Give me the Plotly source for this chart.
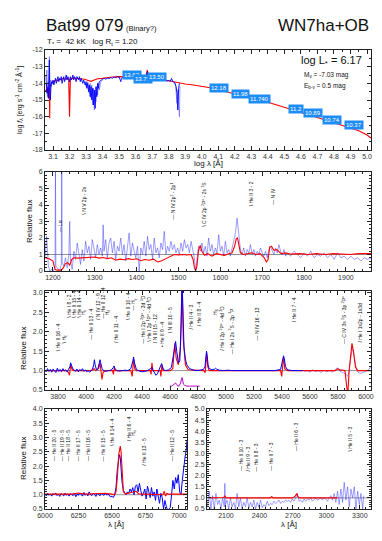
import plotly.graph_objects as go

W, H = 382, 541
FONT = "Liberation Sans Narrow, Liberation Sans, Arial, sans-serif"
INK = "#222"
RED = "rgb(255,0,0)"
BLUE = "rgb(0,0,255)"
LBLUE = "rgba(40,40,255,0.5)"

# ---------------- panel 1: SED (log lambda, log flux) ----------------
sed_model_x = [3.050, 3.058, 3.065, 3.070, 3.078, 3.080, 3.082, 3.090, 3.100, 3.110,
               3.120, 3.130, 3.140, 3.150, 3.160, 3.170, 3.180, 3.190, 3.195, 3.200,
               3.205, 3.215, 3.230, 3.250, 3.270, 3.290, 3.310, 3.330, 3.350, 3.370,
               3.400, 3.430, 3.460, 3.500, 3.540, 3.580, 3.620, 3.660, 3.671, 3.680,
               3.720, 3.750, 3.800, 3.830, 3.850, 3.900, 3.950, 4.000, 4.050, 4.100,
               4.150, 4.200, 4.250, 4.300, 4.350, 4.400, 4.450, 4.500, 4.550, 4.600,
               4.650, 4.700, 4.750, 4.800, 4.850, 4.900, 4.950, 5.000, 5.024]
sed_model_y = [-14.4, -14.5, -14.2, -14.4, -14.3, -16.1, -14.2, -14.0, -13.95, -13.9,
               -13.8, -13.85, -13.75, -13.8, -13.7, -13.75, -13.72, -13.7, -13.8, -16.0,
               -13.75, -13.7, -13.68, -13.7, -13.72, -13.75, -13.82, -13.88, -13.8, -13.72,
               -13.7, -13.65, -13.62, -13.6, -13.62, -13.64, -13.66, -13.66, -13.2, -13.68,
               -13.74, -13.76, -13.84, -13.9, -13.95, -14.04, -14.1, -14.16, -14.26, -14.38,
               -14.5, -14.62, -14.74, -14.87, -15.0, -15.14, -15.28, -15.45, -15.6, -15.75,
               -15.9, -16.05, -16.2, -16.35, -16.5, -16.68, -16.85, -17.1, -17.28]

sed_obs_x = [3.060, 3.064, 3.068, 3.072, 3.076, 3.078, 3.080, 3.084, 3.088, 3.092,
             3.096, 3.100, 3.105, 3.110, 3.115, 3.120, 3.125, 3.130, 3.135, 3.140,
             3.145, 3.150, 3.155, 3.160, 3.165, 3.170, 3.175, 3.180, 3.185, 3.190,
             3.195, 3.200, 3.205, 3.210, 3.215, 3.220, 3.225, 3.230, 3.235, 3.240,
             3.245, 3.250, 3.255, 3.260, 3.265, 3.270, 3.275, 3.280, 3.285, 3.290,
             3.295, 3.300, 3.305, 3.310, 3.315, 3.320, 3.325, 3.330, 3.335, 3.340,
             3.345, 3.350, 3.355, 3.360, 3.365, 3.370, 3.375, 3.380, 3.390, 3.400,
             3.410, 3.420, 3.430, 3.440, 3.450, 3.460, 3.470, 3.480, 3.490, 3.500,
             3.505, 3.510, 3.515, 3.520, 3.530, 3.540, 3.550, 3.560, 3.570, 3.580,
             3.590, 3.600, 3.610, 3.620, 3.630, 3.640, 3.650, 3.660, 3.665, 3.671,
             3.676, 3.690, 3.700, 3.710, 3.720, 3.730, 3.740, 3.750, 3.760, 3.770,
             3.780, 3.790, 3.800, 3.810, 3.817, 3.825, 3.835, 3.845, 3.850, 3.855,
             3.860, 3.865]
sed_obs_y = [-14.0, -14.6, -14.3, -14.9, -13.4, -12.6, -14.2, -15.0, -14.1, -13.9,
             -14.0, -13.8, -14.1, -13.9, -13.7, -14.0, -13.8, -13.6, -13.9, -13.7,
             -13.8, -13.6, -14.0, -13.7, -13.6, -13.9, -13.7, -13.5, -13.8, -13.6,
             -13.7, -13.9, -13.6, -13.8, -13.7, -13.5, -13.8, -13.6, -13.7, -13.9,
             -13.6, -13.7, -13.8, -13.6, -13.9, -13.7, -13.8, -14.0, -13.8, -13.9,
             -14.1, -13.9, -14.3, -14.0, -14.5, -14.1, -14.8, -14.2, -15.0, -14.3,
             -15.3, -14.4, -15.5, -14.2, -14.8, -14.0, -14.3, -13.9, -13.8, -13.75,
             -13.7, -13.75, -13.68, -13.72, -13.65, -13.7, -13.62, -13.66, -13.6, -13.62,
             -13.75, -13.9, -13.7, -13.65, -13.7, -13.68, -13.72, -13.66, -13.7, -13.68,
             -13.72, -13.7, -13.74, -13.7, -13.72, -13.74, -13.7, -13.72, -13.6, -13.3,
             -13.65, -13.74, -13.76, -13.74, -13.78, -13.76, -13.8, -13.78, -13.82, -13.8,
             -13.84, -13.86, -13.84, -13.88, -13.7, -13.9, -13.95, -14.2, -14.6, -15.6,
             -14.3, -14.0]

sed_faint_x = [3.055, 3.060, 3.063, 3.066, 3.070, 3.074, 3.078, 3.082, 3.086, 3.090, 3.095, 3.100, None,
               3.290, 3.300, 3.310, 3.320, 3.325, 3.330, 3.335, 3.340, 3.345, 3.350, 3.355, 3.360,
               3.365, 3.370, 3.375, 3.380, 3.390, 3.400, None,
               3.840, 3.845, 3.850, 3.855, 3.860, 3.865, 3.868]
sed_faint_y = [-13.5, -14.2, -13.2, -14.8, -13.9, -14.9, -12.4, -14.5, -13.8, -14.2, -13.9, -14.0, None,
               -13.9, -14.2, -13.9, -14.6, -14.0, -14.9, -14.1, -15.3, -14.3, -15.6, -14.4, -15.1,
               -14.2, -14.7, -14.0, -14.4, -13.9, -13.8, None,
               -13.95, -14.5, -15.2, -14.4, -15.6, -16.0, -14.2]

phot_x = [3.575, 3.644, 3.729, 4.104, 4.234, 4.352, 4.573, 4.673, 4.785, 4.921]
phot_y = [-13.50, -13.74, -13.62, -14.28, -14.64, -14.94, -15.54, -15.78, -16.20, -16.50]
phot_mag = ["13.62", "13.71", "13.50", "12.18", "11.98", "11.740", "11.2", "10.89", "10.74", "10.37"]

# ---------------- panel 2: UV relative flux ----------------
uv_obs_x = [1181, 1185, 1189, 1193, 1197, 1201, 1205, 1206, 1207, 1212,
            1216, 1220, 1221, 1222, 1226, 1230, 1234, 1238, 1240, 1242,
            1246, 1250, 1254, 1258, 1262, 1266, 1270, 1274, 1278, 1282,
            1286, 1290, 1294, 1298, 1302, 1306, 1310, 1314, 1318, 1320,
            1322, 1326, 1330, 1334, 1338, 1342, 1346, 1350, 1354, 1358,
            1362, 1366, 1370, 1374, 1378, 1382, 1386, 1390, 1394, 1398,
            1402, 1406, 1410, 1414, 1418, 1422, 1426, 1430, 1434, 1438,
            1442, 1446, 1450, 1454, 1458, 1462, 1466, 1470, 1474, 1478,
            1482, 1486, 1490, 1494, 1498, 1502, 1506, 1510, 1514, 1518,
            1522, 1526, 1530, 1534, 1538, 1541, 1544, 1548, 1552, 1556,
            1560, 1564, 1568, 1572, 1576, 1580, 1584, 1588, 1592, 1596,
            1600, 1604, 1608, 1612, 1616, 1620, 1624, 1628, 1632, 1636,
            1640, 1644, 1648, 1652, 1656, 1660, 1664, 1668, 1672, 1676,
            1680, 1684, 1688, 1692, 1696, 1700, 1704, 1708, 1712, 1716,
            1720, 1724, 1728, 1732, 1736, 1740, 1744, 1748, 1752, 1756,
            1760, 1768, 1776, 1784, 1792, 1800, 1808, 1816, 1824, 1832,
            1840, 1848, 1856, 1864, 1872, 1880, 1888, 1896, 1904, 1912,
            1920, 1928, 1936, 1944, 1952, 1960]
uv_obs_y = [0.8, 2.1, 0.3, 0.0, 0.1, 0.0, 0.2, 6.5, 0.3, 0.1,
            0.0, 0.4, 6.5, 0.5, 0.3, 0.8, 0.2, 1.0, 3.0, 0.6,
            0.1, 1.2, 0.7, 1.7, 0.9, 0.4, 1.3, 0.6, 1.8, 1.1,
            1.5, 0.7, 1.9, 1.2, 0.8, 1.6, 1.0, 1.4, 0.9, 2.8,
            1.2, 1.9, 0.8, 1.7, 2.0, 1.1, 1.8, 0.7, 1.5, 1.2,
            2.0, 1.0, 1.6, 0.6, 1.3, 2.3, 0.9, 1.7, 1.2, 0.8,
            1.5, 0.0, 1.4, 1.0, 1.8, 0.9, 2.1, 1.3, 1.6, 0.7,
            2.0, 1.1, 1.4, 0.8, 1.7, 1.3, 2.4, 1.0, 1.5, 1.2,
            1.8, 1.3, 1.6, 1.1, 1.4, 1.0, 1.7, 1.2, 1.9, 1.4,
            1.6, 1.1, 1.8, 1.3, 0.8, 0.0, 0.6, 1.5, 1.2, 1.7,
            1.1, 1.5, 0.9, 2.0, 1.2, 1.6, 1.0, 1.4, 1.1, 2.2,
            1.2, 1.5, 0.9, 1.8, 1.1, 1.3, 0.9, 1.4, 1.7, 2.3,
            3.2, 2.4, 1.3, 1.0, 1.4, 0.9, 1.3, 1.1, 1.6, 1.0,
            1.3, 0.9, 1.2, 1.0, 1.4, 1.1, 0.9, 1.2, 0.8, 1.3,
            1.5, 1.2, 1.0, 1.4, 1.1, 1.6, 1.2, 1.0, 1.3, 0.9,
            1.1, 0.9, 1.2, 1.0, 0.8, 1.1, 0.9, 1.2, 0.8, 1.0,
            0.9, 1.1, 0.8, 1.0, 0.7, 1.1, 0.8, 0.9, 0.7, 0.9,
            0.7, 0.8, 0.6, 0.8, 0.7, 0.8]

uv_model_x = [1181, 1190, 1200, 1205, 1210, 1215, 1220, 1225, 1230, 1235,
              1240, 1245, 1250, 1260, 1270, 1280, 1290, 1300, 1310, 1320,
              1330, 1340, 1350, 1360, 1370, 1380, 1390, 1400, 1410, 1420,
              1430, 1440, 1450, 1460, 1470, 1480, 1490, 1500, 1510, 1520,
              1530, 1535, 1538, 1541, 1544, 1548, 1552, 1556, 1562, 1570,
              1580, 1590, 1600, 1610, 1620, 1628, 1634, 1638, 1641, 1644,
              1648, 1655, 1665, 1675, 1685, 1695, 1705, 1710, 1714, 1718,
              1722, 1728, 1735, 1745, 1755, 1770, 1790, 1810, 1830, 1850,
              1870, 1890, 1910, 1930, 1950, 1960]
uv_model_y = [0.8, 0.75, 0.6, 0.1, 0.05, 0.03, 0.05, 0.2, 0.45, 0.5,
              0.35, 0.7, 0.8, 0.78, 0.8, 0.82, 0.8, 0.85, 0.78, 0.82,
              0.75, 0.8, 0.65, 0.72, 0.68, 0.75, 0.7, 0.74, 0.62, 0.7,
              0.65, 0.72, 0.55, 0.62, 0.75, 0.9, 1.0, 0.98, 1.0, 0.97,
              1.0, 0.7, 0.2, 0.02, 0.3, 1.3, 1.55, 1.2, 0.95, 1.05,
              0.9, 1.05, 1.0, 0.95, 1.05, 1.1, 1.5, 1.95, 2.0, 1.5,
              1.1, 1.0, 1.05, 1.1, 1.0, 1.05, 0.8, 0.55, 0.7, 1.45,
              1.5, 1.25, 1.3, 1.05, 1.1, 1.02, 1.05, 1.0, 1.05, 1.0,
              1.05, 1.02, 1.0, 1.05, 1.03, 1.05]

uv_lab_wl = [1216, 1272, 1486, 1562, 1672, 1725]
uv_lab_f = [2.2, 3.3, 3.0, 2.55, 3.8, 3.9]
uv_lab_text = ["Lα", "N V 2p - 2s", "N IV 2p<sup>2</sup> - 2p<sup>1</sup>",
               "C IV 2p <sup>2</sup>P° - 2s <sup>2</sup>S", "He II 3 - 2", "N IV"]
uv_lab_lead = ["—", "\\", "—", "\\", "\\", "—"]

# ---------------- panel 3: optical relative flux ----------------
opt_obs_x = [3705, 3715, 3725, 3735, 3745, 3755, 3765, 3775, 3785, 3795,
             3805, 3815, 3825, 3835, 3845, 3855, 3865, 3875, 3885, 3890,
             3895, 3905, 3915, 3925, 3935, 3945, 3955, 3965, 3975, 3985,
             3995, 4005, 4015, 4025, 4035, 4045, 4055, 4060, 4065, 4075,
             4085, 4095, 4100, 4105, 4115, 4125, 4140, 4160, 4180, 4195,
             4200, 4205, 4220, 4240, 4260, 4280, 4300, 4320, 4335, 4340,
             4345, 4360, 4380, 4400, 4420, 4440, 4460, 4470, 4480, 4490,
             4500, 4510, 4520, 4530, 4540, 4545, 4555, 4570, 4590, 4610,
             4625, 4634, 4640, 4648, 4660, 4670, 4680, 4686, 4692, 4700,
             4710, 4720, 4740, 4760, 4780, 4800, 4820, 4840, 4850, 4856,
             4861, 4866, 4872, 4880, 4900, 4920, 4926, 4932, 4950, 4980,
             5010, 5050, 5100, 5150, 5200, 5250, 5300, 5350, 5390, 5400,
             5405, 5411, 5417, 5425, 5440, 5470, 5500, 5530, 5550]
opt_obs_y = [1.02, 0.97, 1.05, 0.98, 1.03, 0.96, 1.04, 1.0, 0.95, 1.06,
             0.98, 1.03, 0.97, 1.05, 0.99, 1.02, 0.97, 1.03, 1.1, 1.2,
             1.15, 1.05, 1.02, 0.98, 1.04, 0.97, 1.03, 1.0, 1.05, 0.98,
             1.02, 0.97, 1.0, 0.96, 0.99, 1.02, 1.15, 1.28, 1.15, 1.02,
             1.05, 1.18, 1.28, 1.2, 1.05, 1.0, 0.98, 1.0, 1.01, 1.08,
             1.12, 1.06, 1.0, 0.99, 1.0, 1.01, 1.0, 1.05, 1.25, 1.35,
             1.22, 1.03, 0.99, 0.97, 0.98, 1.0, 1.05, 1.08, 1.0, 0.92,
             0.88, 0.92, 1.0, 1.08, 1.18, 1.12, 1.02, 1.0, 1.02, 1.08,
             1.4, 1.7, 1.75, 1.5, 1.2, 1.25, 2.2, 3.4, 2.6, 1.6,
             1.3, 1.15, 1.05, 1.02, 1.0, 1.0, 1.01, 1.03, 1.1, 1.35,
             1.5, 1.38, 1.15, 1.05, 1.02, 1.04, 1.06, 1.04, 1.01, 1.0,
             1.01, 1.0, 1.0, 1.0, 0.99, 1.0, 1.0, 1.0, 1.03, 1.2,
             1.3, 1.38, 1.3, 1.1, 1.02, 1.0, 1.0, 1.0, 1.0]

opt_faint_x = [5560, 5580, 5600, 5620, 5640, 5660, 5680, 5700, 5720, 5740,
               5760, 5780, 5795, 5805, 5815, 5830, 5845, 5860, 5870, 5880,
               5890, 5900, 5908, 5918, 5930, 5945, 5960, 5980, 6000, 6020,
               6030, 6040]
opt_faint_y = [0.98, 1.0, 0.96, 1.02, 0.97, 1.0, 0.95, 1.01, 0.97, 1.0,
               0.96, 1.02, 1.07, 1.05, 0.98, 0.96, 0.93, 0.9, 0.85, 1.0,
               1.3, 1.5, 1.55, 1.3, 1.05, 0.95, 0.93, 0.95, 0.98, 1.02,
               1.08, 1.05]

opt_model_x = [3705, 3800, 3860, 3875, 3882, 3890, 3898, 3910, 4000, 4030,
               4050, 4058, 4070, 4090, 4100, 4108, 4114, 4122, 4135, 4190,
               4196, 4202, 4210, 4320, 4330, 4340, 4348, 4360, 4460, 4465,
               4471, 4478, 4530, 4535, 4542, 4550, 4600, 4620, 4634, 4645,
               4660, 4675, 4686, 4695, 4710, 4730, 4840, 4852, 4861, 4870,
               4880, 5390, 5398, 5411, 5420, 5440, 5780, 5800, 5810, 5850,
               5862, 5870, 5880, 5893, 5900, 5910, 5925, 5940, 6040]
opt_model_y = [1.0, 1.0, 1.0, 0.95, 0.88, 1.15, 1.05, 1.0, 1.0, 1.0,
               1.02, 1.05, 1.0, 1.05, 1.2, 0.9, 0.77, 0.95, 1.0, 1.0,
               0.9, 1.08, 1.0, 1.0, 0.85, 1.3, 1.05, 1.0, 1.0, 0.9,
               1.2, 1.0, 1.0, 0.85, 1.15, 1.0, 1.0, 1.05, 1.7, 1.3,
               1.15, 1.6, 3.3, 1.8, 1.15, 1.02, 1.0, 0.95, 1.45, 1.1,
               1.0, 1.0, 0.85, 1.35, 1.05, 1.0, 1.0, 1.05, 1.02, 1.0,
               0.7, 0.35, 1.0, 1.6, 1.7, 1.5, 1.1, 1.0, 1.0]

opt_inset_x = [4598, 4610, 4620, 4630, 4640, 4648, 4656, 4666, 4676, 4682,
               4686, 4690, 4696, 4705, 4720, 4740, 4760, 4790, 4812]
opt_inset_y = [0.6, 0.6, 0.62, 0.66, 0.68, 0.64, 0.6, 0.61, 0.68, 0.78,
               0.82, 0.76, 0.65, 0.62, 0.6, 0.6, 0.6, 0.6, 0.6]

opt_lab_wl = [3800, 3843, 3876, 3914, 3948, 3979, 4034, 4081, 4121, 4152,
              4216, 4300, 4336, 4407, 4448, 4495, 4538, 4598, 4752, 4807,
              4921, 4966, 5038, 5224, 5486, 5843, 5955]
opt_lab_f = [1.45, 1.65, 2.3, 2.3, 2.3, 2.38, 1.75, 2.25, 2.3, 2.38,
             1.65, 2.25, 2.5, 1.65, 1.7, 1.65, 1.55, 1.9, 2.0, 2.1,
             2.38, 1.45, 1.38, 1.72, 2.18, 1.63, 1.66]
opt_lab_text = ["He II 16 - 4", "H<sub>ζ</sub>", "He I 8 - 2", "He II 15 - 4", "He II 14 - 4",
                "H<sub>ε</sub>", "He II 13 - 4", "N IV 12 - 9", "He II 12 - 4", "H<sub>δ</sub>",
                "He II 11 - 4", "He II 10 - 4", "H<sub>γ</sub>",
                "He I 2p <sup>3</sup>P° - 3d <sup>3</sup>D", "He I 2p <sup>1</sup>P° - 4d <sup>1</sup>D",
                "N III 15 - 12", "He II 9 - 4", "N III 10 - 5", "He II 4 - 3", "He II 8 - 4",
                "H<sub>β</sub>", "He I 2p <sup>3</sup>P° - 4d <sup>3</sup>D",
                "He I 2s <sup>3</sup>S - 3p <sup>3</sup>P", "N IV 16 - 13", "He II 7 - 4",
                "C IV 3s <sup>2</sup>S - 3p <sup>2</sup>P°", "He I 1s2p - 1s3d"]
opt_lab_lead = ["\\", "\\", "\\", "\\", "\\", "", "—", "/", "—", "",
                "/", "\\", "—", "—", "\\", "/", "•", "\\", "/", "/",
                "", "/", "—", "—", "/", "—", "/"]

# ---------------- panel 4: H-alpha region ----------------
red_obs_x = [6000, 6010, 6020, 6030, 6040, 6050, 6060, 6070, 6080, 6090,
             6100, 6110, 6120, 6130, 6140, 6150, 6160, 6170, 6180, 6190,
             6200, 6210, 6220, 6230, 6240, 6250, 6260, 6270, 6280, 6290,
             6300, 6310, 6320, 6330, 6340, 6350, 6360, 6370, 6380, 6390,
             6400, 6410, 6420, 6430, 6440, 6450, 6460, 6470, 6480, 6490,
             6500, 6510, 6520, 6530, 6540, 6550, 6556, 6562, 6568, 6575,
             6585, 6595, 6605, 6615, 6625, 6635, 6645, 6655, 6665, 6675,
             6685, 6695, 6705, 6715, 6725, 6735, 6745, 6755, 6765, 6775,
             6785, 6795, 6805, 6815, 6825, 6835, 6845, 6855, 6865, 6875,
             6885, 6895, 6905, 6915, 6925, 6935, 6945, 6955, 6965, 6975,
             6985, 6995, 7005, 7015, 7025, 7035, 7045, 7055, 7060]
red_obs_y = [1.02, 0.96, 1.05, 0.98, 1.03, 0.95, 1.04, 0.99, 1.06, 0.97,
             1.02, 0.94, 1.05, 1.0, 0.96, 1.06, 0.98, 1.03, 0.95, 1.04,
             1.0, 0.97, 1.05, 0.93, 1.02, 0.98, 1.06, 1.0, 0.95, 1.08,
             0.98, 1.03, 0.96, 1.1, 1.0, 0.97, 1.05, 1.02, 0.94, 1.06,
             1.0, 0.96, 1.04, 1.02, 0.98, 1.05, 0.99, 1.03, 0.97, 0.92,
             0.95, 0.9, 1.0, 1.25, 1.9, 2.3, 2.4, 2.3, 1.9, 1.45,
             1.15, 1.05, 1.0, 1.1, 1.05, 1.2, 1.1, 1.25, 1.0, 1.3,
             1.35, 1.1, 1.4, 1.15, 0.95, 1.05, 1.2, 0.85, 1.3, 1.1,
             0.9, 1.25, 0.95, 1.1, 0.8, 1.2, 1.0, 0.7, 1.05, 0.9,
             0.5, 0.8, 0.6, 0.45, 0.5, 0.55, 1.0, 1.5, 1.2, 1.6,
             1.4, 1.7, 1.1, 1.0, 1.5, 2.0, 2.3, 2.6, 2.9]

red_model_x = [6000, 6100, 6200, 6250, 6300, 6400, 6450, 6500, 6520, 6530,
               6540, 6550, 6556, 6562, 6568, 6575, 6585, 6600, 6680, 6700,
               6850, 6880, 6890, 6900, 6910, 6920, 6940, 7060]
red_model_y = [1.02, 1.03, 1.02, 1.06, 1.02, 1.04, 1.05, 1.02, 1.0, 1.1,
               1.6, 2.4, 2.65, 2.7, 2.5, 1.8, 1.1, 1.03, 1.12, 1.03,
               1.02, 1.0, 1.12, 0.95, 1.05, 1.02, 1.02, 1.02]

red_lab_wl = [6068, 6122, 6173, 6243, 6323, 6430, 6500, 6623, 6656, 6743, 6943]
red_lab_f = [2.1, 2.1, 2.1, 2.1, 2.1, 2.1, 2.63, 2.8, 2.98, 1.93, 2.1]
red_lab_text = ["He II 20 - 5", "He II 19 - 5", "He II 18 - 5", "He II 17 - 5", "He II 16 - 5",
                "He II 15 - 5", "He II 14 - 4", "He II 6 - 4", "H<sub>α</sub>", "He II 13 - 5",
                "He II 12 - 5"]
red_lab_lead = ["—", "—", "—", "—", "—", "—", "\\", "/", "", "/", "—"]

# ---------------- panel 5: near-UV region ----------------
nuv_obs_x = [1935, 1950, 1965, 1980, 1995, 2010, 2025, 2040, 2055, 2070,
             2085, 2090, 2095, 2110, 2125, 2140, 2155, 2170, 2185, 2200,
             2215, 2230, 2245, 2260, 2275, 2290, 2305, 2320, 2335, 2350,
             2365, 2380, 2395, 2410, 2425, 2440, 2455, 2470, 2485, 2500,
             2515, 2530, 2545, 2560, 2575, 2590, 2605, 2620, 2635, 2650,
             2665, 2680, 2695, 2710, 2725, 2740, 2755, 2770, 2785, 2800,
             2815, 2830, 2845, 2860, 2875, 2890, 2905, 2920, 2935, 2950,
             2965, 2980, 2995, 3010, 3025, 3040, 3055, 3070, 3085, 3100,
             3115, 3130, 3145, 3160, 3175, 3190, 3205, 3220, 3235, 3250,
             3265, 3280, 3295, 3310, 3325, 3335]
nuv_obs_y = [0.6, 1.3, 0.5, 1.1, 0.5, 1.2, 0.7, 0.9, 0.5, 1.0,
             0.6, 1.65, 0.7, 0.9, 0.5, 1.0, 0.6, 0.8, 0.5, 1.2,
             0.6, 1.0, 0.5, 0.8, 0.6, 1.0, 0.55, 0.8, 0.6, 0.9,
             0.5, 0.8, 0.6, 0.9, 0.55, 0.7, 0.6, 0.85, 0.65, 0.75,
             0.7, 0.85, 0.75, 0.8, 0.9, 0.75, 0.85, 0.8, 0.9, 0.85,
             0.9, 0.8, 0.95, 0.85, 1.0, 1.2, 0.85, 0.9, 0.8, 0.95,
             0.85, 0.95, 0.9, 1.0, 0.85, 0.95, 1.0, 0.9, 0.95, 1.0,
             0.9, 1.0, 0.95, 0.85, 1.0, 1.1, 0.9, 1.2, 0.8, 1.3,
             0.7, 1.4, 0.8, 1.7, 0.9, 1.5, 0.6, 1.4, 1.0, 1.5,
             0.5, 1.3, 0.7, 1.2, 0.5, 1.1]

nuv_model_x = [1953, 2080, 2090, 2100, 2500, 2510, 2520, 2700, 2720, 2735,
               2745, 2760, 3100]
nuv_model_y = [1.0, 1.02, 1.1, 1.0, 1.0, 1.06, 1.0, 1.0, 1.08, 1.2,
               1.05, 1.0, 1.0]

nuv_lab_wl = [2235, 2295, 2369, 2504, 2729, 3208]
nuv_lab_f = [2.11, 2.11, 2.11, 2.11, 3.0, 3.0]
nuv_lab_text = ["He II 10 - 3", "He II 9 - 3", "He II 8 - 3", "He II 7 - 3", "He II 6 - 3", "He II 5 - 3"]
nuv_lab_lead = ["—", "/", "—", "—", "—", "\\"]


def dom_x(a, b):
    return [a / W, b / W]


def dom_y(top, bottom):
    return [1 - bottom / H, 1 - top / H]


def axis(dom, rng, dtick, minor, anchor, tick0=None, fmt=None):
    ax = dict(domain=dom, range=rng, dtick=dtick, anchor=anchor,
              ticks="inside", ticklen=4, tickwidth=0.8, tickcolor=INK,
              minor=dict(dtick=minor, ticks="inside", ticklen=2, tickwidth=0.6, tickcolor=INK),
              mirror="allticks", showline=True, linecolor=INK, linewidth=1,
              showgrid=False, zeroline=False, automargin=False,
              tickfont=dict(size=7, color="#333", family=FONT))
    if tick0 is not None:
        ax["tick0"] = tick0
    if fmt:
        ax["tickformat"] = fmt
    return ax


fig = go.Figure()

def line(x, y, color, width, xa, ya):
    fig.add_trace(go.Scatter(x=x, y=y, mode="lines", xaxis=xa, yaxis=ya,
                             line=dict(color=color, width=width), connectgaps=False,
                             showlegend=False, hoverinfo="skip"))

# panel 1
line(sed_model_x, sed_model_y, RED, 1.1, "x", "y")
line(sed_faint_x, sed_faint_y, LBLUE, 0.9, "x", "y")
line(sed_obs_x, sed_obs_y, BLUE, 0.9, "x", "y")
# panel 2
line(uv_obs_x, uv_obs_y, LBLUE, 0.9, "x2", "y2")
line(uv_model_x, uv_model_y, RED, 1.1, "x2", "y2")
# panel 3
line(opt_faint_x, opt_faint_y, LBLUE, 0.9, "x3", "y3")
line(opt_model_x, opt_model_y, RED, 1.1, "x3", "y3")
line(opt_obs_x, opt_obs_y, BLUE, 1.0, "x3", "y3")
line(opt_inset_x, opt_inset_y, "rgb(185,0,200)", 1.0, "x3", "y3")
# panel 4
line(red_obs_x, red_obs_y, BLUE, 1.0, "x4", "y4")
line(red_model_x, red_model_y, RED, 1.1, "x4", "y4")
# panel 5
line(nuv_obs_x, nuv_obs_y, LBLUE, 0.9, "x5", "y5")
line(nuv_model_x, nuv_model_y, RED, 1.1, "x5", "y5")

shapes = []
for k in ["2", "3", "4", "5"]:
    shapes.append(dict(type="line", xref="x%s domain" % k, yref="y" + k, x0=0, x1=1, y0=1, y1=1,
                       line=dict(color="#777", width=0.8), layer="below"))

ann = []

def ptxt(px, py, s, size, xanchor="left", yanchor="middle", angle=0, family=None):
    ann.append(dict(x=px / W, y=1 - py / H, xref="paper", yref="paper", text=s, showarrow=False,
                    xanchor=xanchor, yanchor=yanchor, textangle=angle,
                    font=dict(size=size, color="#111", family=family or "Liberation Sans, Arial, sans-serif")))

# header
ptxt(36, 29, "Bat99 079", 17, yanchor="bottom")
ptxt(116, 27, "(Binary?)", 7.5, yanchor="bottom")
ptxt(363, 29, "WN7ha+OB", 17, xanchor="right", yanchor="bottom")
ptxt(37, 27, "T<sub>*</sub> =  42 kK   log R<sub>t</sub> = 1.20", 8, yanchor="top")
ptxt(291, 53, "log L<sub>*</sub> = 6.17", 11)
ptxt(294, 67, "M<sub>v</sub> = -7.03 mag", 6.5, family=FONT)
ptxt(294, 78, "E<sub>b-v</sub> = 0.5 mag", 6.5, family=FONT)

# photometry boxes
for xx, yy, m in zip(phot_x, phot_y, phot_mag):
    ann.append(dict(x=xx, y=yy, xref="x", yref="y", text=m, showarrow=False,
                    xanchor="center", yanchor="middle", bgcolor="rgb(30,140,245)",
                    borderpad=1, font=dict(size=6, color="white", family=FONT)))

# axis titles
ptxt(12, 92, "log <i>f</i><sub>λ</sub> [erg s<sup>-1</sup> cm<sup>-2</sup> Å<sup>-1</sup>]", 7,
     xanchor="center", angle=-90, family=FONT)
ptxt(200, 155, "log λ [Å]", 8, xanchor="center", family=FONT)
ptxt(21, 213, "Relative flux", 8, xanchor="center", angle=-90, family=FONT)
ptxt(15, 340, "Relative flux", 8, xanchor="center", angle=-90, family=FONT)
ptxt(15, 450, "Relative flux", 8, xanchor="center", angle=-90, family=FONT)
ptxt(108, 516, "λ [Å]", 8, xanchor="center", family=FONT)
ptxt(281, 516, "λ [Å]", 8, xanchor="center", family=FONT)

# line identifications
def labels(wl, f, txt, lead, xa, ya):
    for w, v, t, l in zip(wl, f, txt, lead):
        s = (l + " " + t) if l else t
        ann.append(dict(x=w, y=v, xref=xa, yref=ya, text=s, showarrow=False,
                        xanchor="center", yanchor="bottom", textangle=-90,
                        font=dict(size=5, color="#111", family=FONT)))

labels(uv_lab_wl, uv_lab_f, uv_lab_text, uv_lab_lead, "x2", "y2")
labels(opt_lab_wl, opt_lab_f, opt_lab_text, opt_lab_lead, "x3", "y3")
labels(red_lab_wl, red_lab_f, red_lab_text, red_lab_lead, "x4", "y4")
labels(nuv_lab_wl, nuv_lab_f, nuv_lab_text, nuv_lab_lead, "x5", "y5")

sed_yticks = [-12, -13, -14, -15, -16, -17, -18]

fig.update_layout(
    width=W, height=H, margin=dict(l=0, r=0, t=0, b=0),
    paper_bgcolor="white", plot_bgcolor="white", showlegend=False,
    font=dict(family=FONT, color="#111"),
    xaxis=axis(dom_x(37, 363), [3.0516, 5.024], 0.1, 0.05, "y", tick0=3.1, fmt=".1f"),
    yaxis=dict(axis(dom_y(42, 142), [-18, -12], 1, 0.5, "x"),
               tickmode="array", tickvals=sed_yticks, ticktext=[str(v) for v in sed_yticks]),
    xaxis2=axis(dom_x(37, 363), [1181, 1960], 100, 20, "y2"),
    yaxis2=axis(dom_y(164, 263), [0, 6], 1, 0.2, "x2"),
    xaxis3=axis(dom_x(37, 363), [3707, 6036], 200, 50, "y3"),
    yaxis3=axis(dom_y(283, 382), [0.5, 3.05], 0.5, 0.1, "x3", fmt=".1f"),
    xaxis4=axis(dom_x(37, 179), [6000, 7060], 250, 50, "y4"),
    yaxis4=axis(dom_y(401, 501), [0.5, 4.0], 0.5, 0.1, "x4", fmt=".1f"),
    xaxis5=axis(dom_x(199, 363), [1930, 3400], 300, 50, "y5", tick0=2100),
    yaxis5=axis(dom_y(401, 501), [0.5, 5.0], 0.5, 0.1, "x5", fmt=".1f"),
    shapes=shapes,
    annotations=ann,
)

fig.write_html("out.html")
